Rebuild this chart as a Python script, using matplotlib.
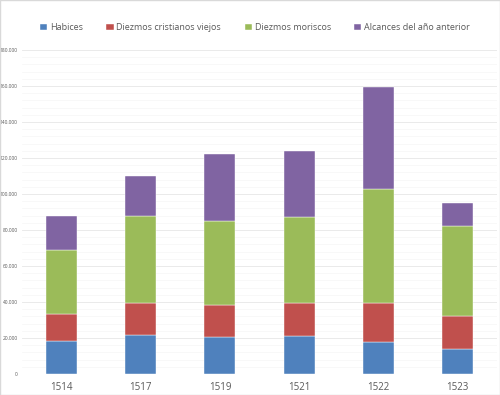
import matplotlib.pyplot as plt
from matplotlib.ticker import FuncFormatter, MultipleLocator
import numpy as np

# Values in maravedies
years = ['1514', '1517', '1519', '1521', '1522', '1523']
habices = [18500, 21700, 20400, 21300, 17600, 13700]
cristianos_viejos = [14700, 17600, 17700, 18300, 21700, 18700]
moriscos = [35700, 48300, 46900, 47800, 63700, 50000]
alcances = [18700, 22600, 37400, 36700, 56300, 12600]

series = [
    ('Habices', habices, '#4F81BD'),
    ('Diezmos cristianos viejos', cristianos_viejos, '#C0504D'),
    ('Diezmos moriscos', moriscos, '#9BBB59'),
    ('Alcances del año anterior', alcances, '#8064A2'),
]

plt.rcParams['font.family'] = ['Open Sans', 'DejaVu Sans']

fig = plt.figure(figsize=(5, 3.95), dpi=100)
ax = fig.add_axes([0.044, 0.0532, 0.95, 0.82])

x = np.arange(len(years))
bottom = np.zeros(len(years))
for name, vals, color in series:
    ax.bar(x, vals, width=0.39, bottom=bottom, color=color, label=name,
           edgecolor='white', linewidth=0.3, zorder=3)
    bottom += np.array(vals)

ax.set_ylim(0, 180000)
ax.set_xlim(-0.5, len(years) - 0.5)
ax.yaxis.set_major_locator(MultipleLocator(20000))
ax.yaxis.set_minor_locator(MultipleLocator(4000))
ax.yaxis.set_major_formatter(FuncFormatter(lambda v, p: f'{int(v):,}'.replace(',', '.')))
ax.grid(axis='y', which='major', color='#e6e6e6', linewidth=0.6, zorder=0)
ax.grid(axis='y', which='minor', color='#f5f5f5', linewidth=0.5, zorder=0)

ax.set_xticks(x)
ax.set_xticklabels(years)
ax.tick_params(axis='x', length=0, labelsize=7, colors='#595959', pad=6)
ax.tick_params(axis='y', which='both', length=0, labelsize=3.5, colors='#595959', pad=3)

for s in ax.spines.values():
    s.set_visible(False)
ax.axhline(0, color='#d9d9d9', linewidth=0.6, zorder=2)

fig.legend(loc='center', bbox_to_anchor=(0.51, 0.93), ncol=4, frameon=False,
           fontsize=6.5, labelcolor='#595959', handlelength=0.8, handleheight=0.8,
           handletextpad=0.3, columnspacing=2.6)

fig.patches.append(plt.Rectangle((0, 0), 1, 1, transform=fig.transFigure,
                                 fill=False, edgecolor='#d9d9d9', linewidth=1))

fig.savefig('out.png', dpi=100)
